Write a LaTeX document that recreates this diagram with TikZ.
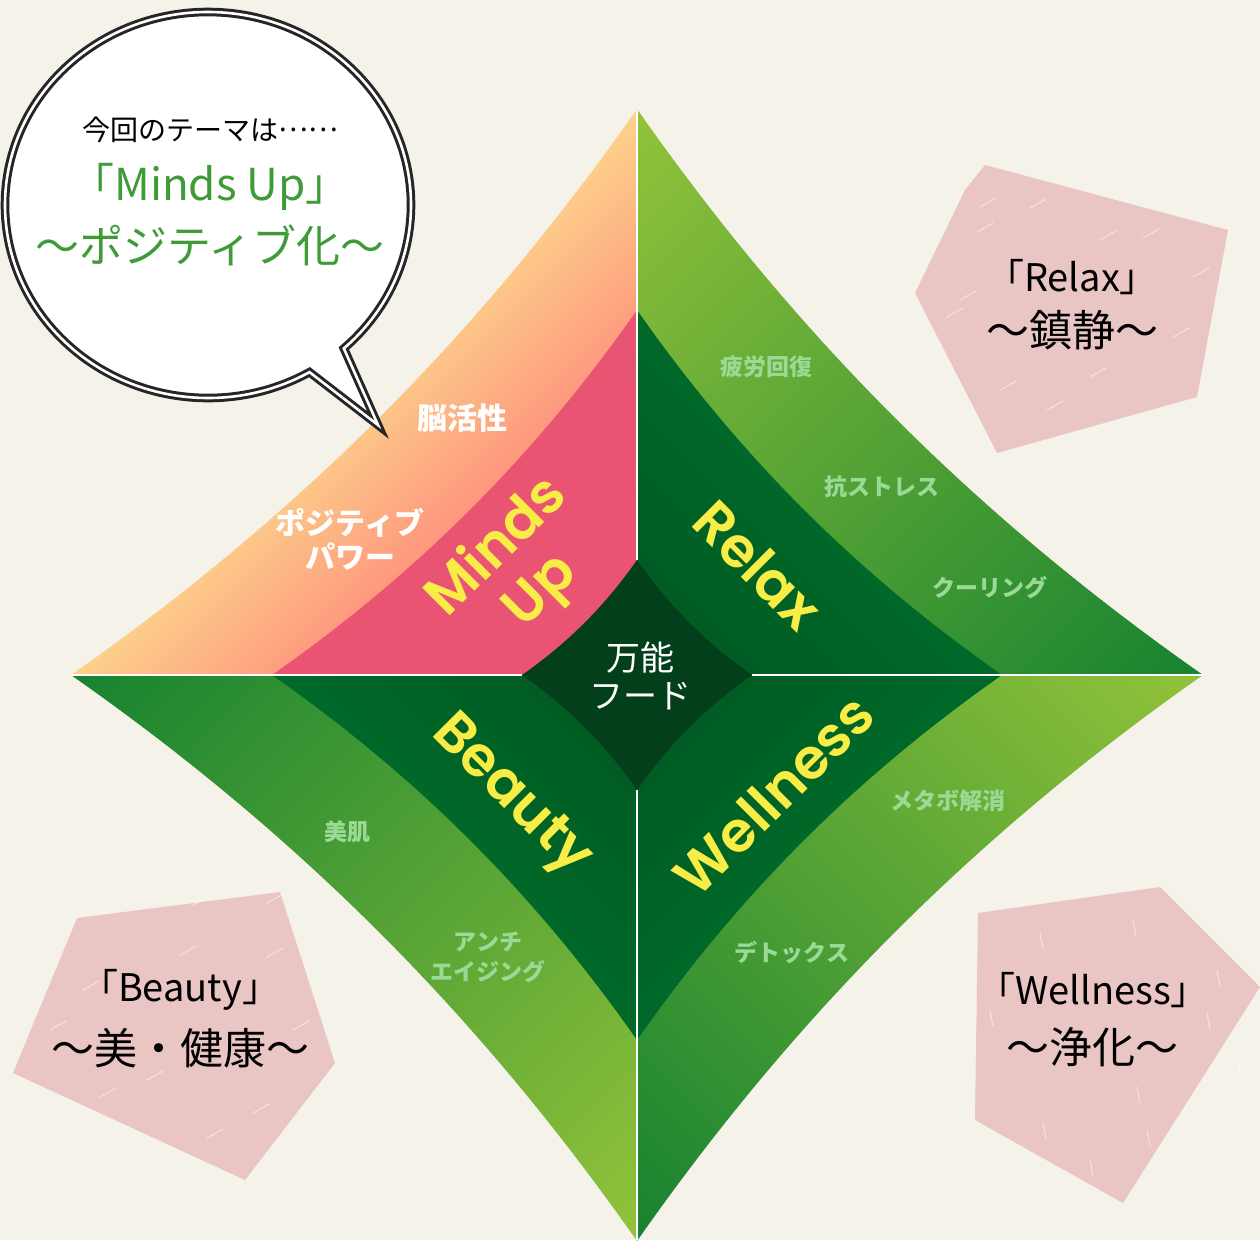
\documentclass[tikz,border=0pt]{standalone}
\usepackage{fontspec}
\usepackage{tikz}
\usetikzlibrary{calc}

\newfontfamily\jpfont{Noto Sans CJK JP}
\newfontfamily\wordfont{Poppins}[UprightFont={* SemiBold}]

\definecolor{paper}{HTML}{F5F2EA}
\definecolor{boxpink}{HTML}{E9C5C4}
\definecolor{mindpink}{HTML}{E95473}
\definecolor{orangelt}{HTML}{FDD38B}
\definecolor{orangedk}{HTML}{FE8A7B}
\definecolor{limegreen}{HTML}{93C33A}
\definecolor{midgreen}{HTML}{168230}
\definecolor{deepgreen}{HTML}{00561F}
\definecolor{deepgreentop}{HTML}{006A2A}
\definecolor{coregreen}{HTML}{033F1A}
\definecolor{wordyellow}{HTML}{F8EC46}
\definecolor{taggreen}{HTML}{9ADA96}
\definecolor{bubblegreen}{HTML}{3F9B37}

% quarter of a concave diamond between sizes #3 and #4, quadrant signs #1 #2
\newcommand{\band}[4]{(0,#2*#3) .. controls (#1*0.28*#3,#2*0.6*#3) and (#1*0.6*#3,#2*0.28*#3) .. (#1*#3,0) -- (#1*#4,0) .. controls (#1*0.6*#4,#2*0.28*#4) and (#1*0.28*#4,#2*0.6*#4) .. (0,#2*#4) -- cycle}
\newcommand{\quadshade}[6]{%
  \begin{scope}
    \clip[shift={(c)}] \band{#1}{#2}{#3}{0};
    \begin{scope}[transform canvas={shift={(c)},rotate=#4}]
      \shade[#5] #6;
    \end{scope}
  \end{scope}}

\tikzset{
  bigword/.style={text=wordyellow, font=\wordfont\fontsize{56}{62}\selectfont, align=center, inner sep=0pt},
  coretext/.style={text=white, font=\jpfont\fontsize{34}{38}\selectfont, align=center, inner sep=0pt},
  whitetag/.style={text=white, font=\jpfont\bfseries\fontsize{30}{34}\selectfont, align=center, inner sep=0pt},
  tag/.style={text=taggreen, font=\jpfont\bfseries\fontsize{23}{30}\selectfont, align=center, inner sep=0pt},
  boxword/.style={font=\jpfont\fontsize{38}{44}\selectfont, inner sep=0pt},
  boxline/.style={font=\jpfont\fontsize{43}{50}\selectfont, inner sep=0pt},
  bubblesmall/.style={font=\jpfont\fontsize{28}{32}\selectfont, inner sep=0pt},
  bubbletitle/.style={text=bubblegreen, font=\jpfont\fontsize{44}{50}\selectfont, inner sep=0pt},
  bubble/.style={fill=white, draw=black!85, line width=3pt, double=white, double distance=2.6pt},
  axisline/.style={white, line width=2.4pt},
  scratch/.style={white, opacity=0.45, line width=1.2pt, line cap=round}
}

\begin{document}
\begin{tikzpicture}[x=1pt,y=1pt]
  \useasboundingbox (0,0) rectangle (1260,-1240);
  \fill[paper] (0,0) rectangle (1260,-1240);

  \coordinate (c) at (637,-675);
  \coordinate (top) at (637,-110);
  \coordinate (bottom) at (637,-1240);
  \coordinate (left) at (71,-675);
  \coordinate (right) at (1203,-675);
  \coordinate (ctop) at (637,-560);
  \coordinate (cbottom) at (637,-790);
  \coordinate (cleft) at (522,-675);
  \coordinate (cright) at (752,-675);

  % pink boxes
  \fill[boxpink] (985,-165) -- (1228,-230) -- (1197,-397) -- (997,-453) -- (915,-293) -- (965,-190) -- cycle;
  \fill[boxpink] (77,-918) -- (280,-892) -- (335,-1063) -- (245,-1180) -- (13,-1073) -- cycle;
  \fill[boxpink] (978,-913) -- (1160,-887) -- (1260,-987) -- (1123,-1203) -- (975,-1120) -- cycle;
  \foreach \x/\y in {980/207,1030/208,1100/240,977/232,1143/238,960/300,1193/277,1090/377,1000/390,1047/410,1173/337,947/317,
                     193/905,267/903,83/990,180/955,267/957,100/1097,147/1080,253/1113,207/1138,293/1030,50/1030}
    \draw[scratch] (\x,-\y) -- ++(16,9);
  \foreach \x/\y in {1040/933,1133/920,1217/970,990/1010,1207/1013,1043/1123,1137/1087,1090/1160,1147/1130,1237/1057}
    \draw[scratch] (\x,-\y) -- ++(3,-16);

  % outer bands
  \quadshade{-1}{1}{566}{45}{top color=orangelt, bottom color=orangedk}{(-420,200) rectangle (420,405)}
  \quadshade{1}{1}{566}{-45}{left color=limegreen, right color=midgreen}{(-405,200) rectangle (405,405)}
  \quadshade{1}{-1}{566}{-135}{left color=limegreen, right color=midgreen}{(-405,200) rectangle (405,405)}
  \quadshade{-1}{-1}{566}{135}{left color=limegreen, right color=midgreen}{(-405,200) rectangle (405,405)}

  % middle bands
  \fill[mindpink, shift={(c)}] \band{-1}{1}{365}{0};
  \quadshade{1}{1}{365}{-45}{top color=deepgreentop, bottom color=deepgreen}{(-270,0) rectangle (270,262)}
  \quadshade{1}{-1}{365}{-135}{top color=deepgreentop, bottom color=deepgreen}{(-270,0) rectangle (270,262)}
  \quadshade{-1}{-1}{365}{135}{top color=deepgreentop, bottom color=deepgreen}{(-270,0) rectangle (270,262)}

  % core
  \fill[coregreen, shift={(c)}] (0,115) .. controls (0.28*115,0.6*115) and (0.6*115,0.28*115) .. (115,0)
    .. controls (0.6*115,-0.28*115) and (0.28*115,-0.6*115) .. (0,-115)
    .. controls (-0.28*115,-0.6*115) and (-0.6*115,-0.28*115) .. (-115,0)
    .. controls (-0.6*115,0.28*115) and (-0.28*115,0.6*115) .. (0,115) -- cycle;

  \draw[axisline] (top) -- (ctop);
  \draw[axisline] (cbottom) -- (bottom);
  \draw[axisline] (left) -- (cleft);
  \draw[axisline] (cright) -- (right);

  % speech bubble
  \coordinate (bubc) at (208,-205);
  \coordinate (tip) at (378,-425);
  \draw[bubble] (tip) -- ($(bubc)+(-48:203 and 193)$) arc[start angle=-48, end angle=300, x radius=203, y radius=193] -- cycle;
  \draw (210,-130) node[bubblesmall] (theme) {今回のテーマは\raisebox{0.32em}{……}};
  \draw (210,-187) node[bubbletitle] (mindsup) {「Minds Up」};
  \draw (210,-245) node[bubbletitle] (positive) {～ポジティブ化～};

  \draw (462,-418) node[whitetag] (brain) {脳活性};
  \draw (350,-539) node[whitetag] (power) {ポジティブ\\パワー};
  \draw (520,-570) node[bigword, rotate=45] (minds) {Minds\\Up};
  \draw (758,-565) node[bigword, rotate=-45] (relax) {Relax};
  \draw (510,-797) node[bigword, rotate=-45] (beauty) {Beauty};
  \draw (773,-795) node[bigword, rotate=45] (wellness) {Wellness};
  \draw (640,-676) node[coretext] (core) {万能\\フード};

  \draw (766,-367) node[tag] (tired) {疲労回復};
  \draw (882,-487) node[tag] (stress) {抗ストレス};
  \draw (990,-588) node[tag] (cooling) {クーリング};
  \draw (347,-832) node[tag] (skin) {美肌};
  \draw (488,-957) node[tag] (aging) {アンチ\\エイジング};
  \draw (948,-801) node[tag] (metabo) {メタボ解消};
  \draw (792,-953) node[tag] (detox) {デトックス};

  \draw (1072,-277) node[boxword] (relaxname) {「Relax」};
  \draw (1072,-330) node[boxline] (relaxsub) {～鎮静～};
  \draw (180,-990) node[boxword] (beautyname) {「Beauty」};
  \draw (180,-1048) node[boxline] (beautysub) {～美・健康～};
  \draw (1093,-990) node[boxword] (wellname) {「Wellness」};
  \draw (1092,-1047) node[boxline] (wellsub) {～浄化～};
\end{tikzpicture}
\end{document}
